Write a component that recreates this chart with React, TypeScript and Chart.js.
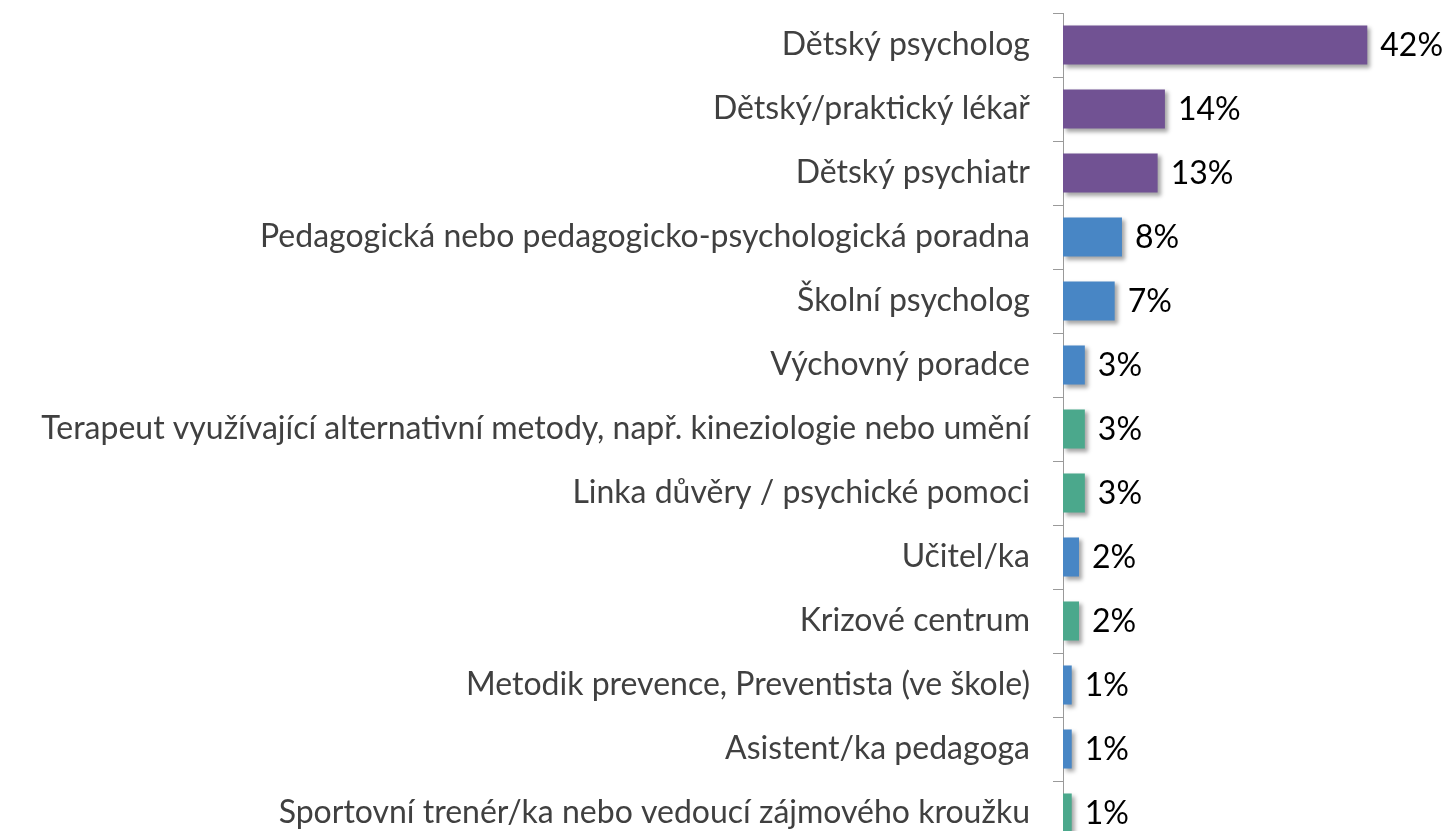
import React, { useEffect, useRef } from "react";
import { Chart, registerables } from "chart.js";

Chart.register(...registerables);

const categories = [
  "Dětský psycholog",
  "Dětský/praktický lékař",
  "Dětský psychiatr",
  "Pedagogická nebo pedagogicko-psychologická poradna",
  "Školní psycholog",
  "Výchovný poradce",
  "Terapeut využívající alternativní metody, např. kineziologie nebo umění",
  "Linka důvěry / psychické pomoci",
  "Učitel/ka",
  "Krizové centrum",
  "Metodik prevence, Preventista (ve škole)",
  "Asistent/ka pedagoga",
  "Sportovní trenér/ka nebo vedoucí zájmového kroužku",
];

const values = [41.8, 14, 13, 8.1, 7.1, 3, 3, 3, 2.2, 2.2, 1.2, 1.2, 1.2];
const valueLabels = ["42%", "14%", "13%", "8%", "7%", "3%", "3%", "3%", "2%", "2%", "1%", "1%", "1%"];

const PURPLE = "rgb(113,82,147)";
const BLUE = "rgb(72,134,197)";
const GREEN = "rgb(75,168,140)";
const barColors = [
  PURPLE, PURPLE, PURPLE,
  BLUE, BLUE, BLUE,
  GREEN, GREEN,
  BLUE,
  GREEN,
  BLUE, BLUE,
  GREEN,
];

const FONT = "Lato, 'Open Sans', sans-serif";

export default function App() {
  const ref = useRef<HTMLCanvasElement | null>(null);

  useEffect(() => {
    if (!ref.current) return;

    const shadowPlugin = {
      id: "barShadow",
      beforeDatasetsDraw(chart: any) {
        const ctx = chart.ctx;
        ctx.save();
        ctx.shadowColor = "rgba(0,0,0,0.35)";
        ctx.shadowBlur = 4;
        ctx.shadowOffsetX = 3;
        ctx.shadowOffsetY = 3;
      },
      afterDatasetsDraw(chart: any) {
        chart.ctx.restore();
      },
    };

    const valueLabelPlugin = {
      id: "valueLabels",
      afterDraw(chart: any) {
        const ctx = chart.ctx;
        const meta = chart.getDatasetMeta(0);
        ctx.save();
        ctx.font = `32px ${FONT}`;
        ctx.fillStyle = "#000000";
        ctx.textAlign = "left";
        ctx.textBaseline = "middle";
        meta.data.forEach((bar: any, i: number) => {
          ctx.fillText(valueLabels[i], bar.x + 13, bar.y + 1);
        });
        ctx.restore();
      },
    };

    const chart = new Chart(ref.current, {
      type: "bar",
      data: {
        labels: categories,
        datasets: [
          {
            data: values,
            backgroundColor: barColors,
            borderWidth: 0,
            barPercentage: 0.61,
            categoryPercentage: 1.0,
          },
        ],
      },
      options: {
        indexAxis: "y",
        animation: false,
        responsive: true,
        maintainAspectRatio: false,
        layout: { padding: { top: 13, right: 18, bottom: 0, left: 0 } },
        plugins: {
          legend: { display: false },
          tooltip: { enabled: false },
        },
        scales: {
          x: {
            display: false,
            min: 0,
            max: 50,
          },
          y: {
            afterFit(scale: any) {
              scale.width = 1063;
              scale.paddingTop = 0;
              scale.paddingBottom = 0;
            },
            border: { display: true, color: "#9a9a9a", width: 1 },
            grid: {
              display: true,
              offset: true,
              drawOnChartArea: false,
              drawTicks: true,
              tickLength: 10,
              color: "#9a9a9a",
            },
            ticks: {
              padding: 23,
              color: "#404040",
              font: { family: FONT, size: 32 },
              autoSkip: false,
            },
          },
        },
      },
      plugins: [shadowPlugin, valueLabelPlugin],
    });

    return () => chart.destroy();
  }, []);

  return (
    <div style={{ position: "fixed", top: 0, left: 0, width: 1445, height: 845, background: "#fff" }}>
      <canvas ref={ref} />
    </div>
  );
}
